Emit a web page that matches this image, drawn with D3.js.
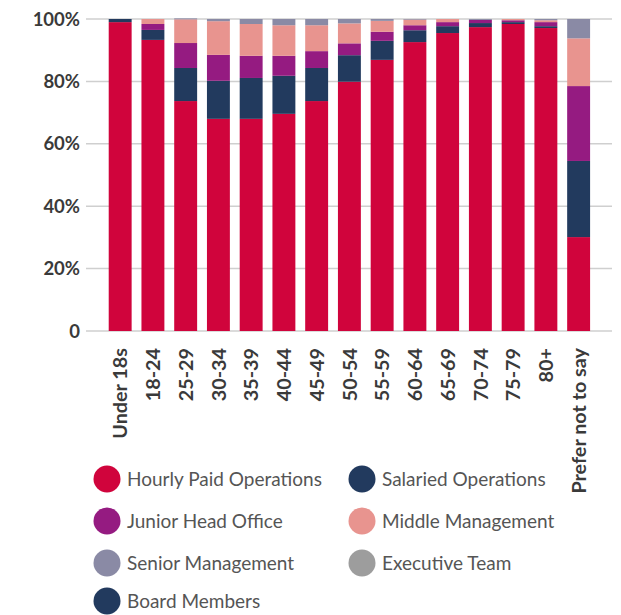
<!DOCTYPE html>
<html><head><meta charset="utf-8">
<script src="https://cdn.jsdelivr.net/npm/d3@7"></script>
<style>body{margin:0;background:#fff}</style>
</head><body><svg id="c" width="621" height="615"></svg>
<script>
const categories = ["Under 18s","18-24","25-29","30-34","35-39","40-44","45-49","50-54","55-59","60-64","65-69","70-74","75-79","80+","Prefer not to say"];
const seriesNames = ["Hourly Paid Operations","Salaried Operations","Junior Head Office","Middle Management","Senior Management","Executive Team","Board Members"];
const hourly    = [99.0,93.3,73.7,68.0,68.0,69.6,73.7,79.9,86.9,92.6,95.5,97.4,98.4,97.1,30.1];
const salaried  = [1.0, 3.2,10.6,12.2,13.1,12.2,10.6, 8.5, 6.1, 3.8, 2.2, 1.3, 0.6, 0.6,24.4];
const junior    = [0,   1.9, 8.0, 8.3, 7.1, 6.4, 5.4, 3.8, 2.9, 1.6, 1.3, 1.0, 0.6, 1.3,24.0];
const middle    = [0,   1.6, 7.6,10.8,10.2, 9.8, 8.3, 6.4, 3.5, 1.8, 1.0, 0.0, 0.4, 0.6,15.3];
const senior    = [0,   0,   0.3, 0.7, 1.6, 2.0, 2.0, 1.4, 0.6, 0.2, 0.0, 0.3, 0.0, 0.4, 6.2];
const executive = [0,0,0,0,0,0,0,0,0,0,0,0,0,0,0];
const board     = [0,0,0,0,0,0,0,0,0,0,0,0,0,0,0];
const yTicks = [0,20,40,60,80,100];
const colors = ["#d0043c","#223a5e","#951b81","#e8948f","#8a8aa5","#9d9d9d","#223a5e"];

const seriesVals = [hourly,salaried,junior,middle,senior,executive,board];
const rows = categories.map((c,i)=>{const r={cat:c}; seriesNames.forEach((s,j)=>r[s]=seriesVals[j][i]); return r;});
const stack = d3.stack().keys(seriesNames)(rows);

const svg = d3.select("#c");
const x = d3.scaleBand().domain(categories).range([103.8,595]).paddingInner(0.3).paddingOuter(0.15);
const y = d3.scaleLinear().domain([0,100]).range([331,19]);

svg.append("g").selectAll("line").data(yTicks).join("line")
  .attr("x1",86).attr("x2",612).attr("y1",d=>y(d)).attr("y2",d=>y(d))
  .attr("stroke","#cfcfcf").attr("stroke-width",1.5);

svg.append("g").selectAll("text").data(yTicks).join("text")
  .attr("x",80).attr("y",d=>y(d)).attr("dy","0.36em").attr("text-anchor","end")
  .attr("font-family","Lato, sans-serif").attr("font-weight","bold").attr("font-size",18.5).attr("fill","#3a3a3a")
  .text(d=>d===0?"0":d+"%");

svg.append("g").selectAll("g").data(stack).join("g").attr("fill",(d,i)=>colors[i])
  .selectAll("rect").data(d=>d).join("rect")
  .attr("x",d=>x(d.data.cat)).attr("width",x.bandwidth())
  .attr("y",d=>y(d[1])).attr("height",d=>Math.max(0,y(d[0])-y(d[1])));

svg.append("g").selectAll("text").data(categories).join("text")
  .attr("transform",d=>`translate(${x(d)+x.bandwidth()/2},348) rotate(-90)`)
  .attr("text-anchor","end").attr("dy","0.36em")
  .attr("font-family","Lato, sans-serif").attr("font-weight","bold").attr("font-size",19.8).attr("fill","#3a3a3a")
  .text(d=>d);

const lg = svg.append("g").selectAll("g").data(seriesNames).join("g")
  .attr("transform",(d,i)=>`translate(${i%2===0?107:362},${[479,521,563,601][Math.floor(i/2)]})`);
lg.append("circle").attr("r",13.5).attr("fill",(d,i)=>colors[i]);
lg.append("text").attr("x",20).attr("dy","0.36em")
  .attr("font-family","Lato, sans-serif").attr("font-size",19).attr("fill","#555")
  .text(d=>d);
</script></body></html>
